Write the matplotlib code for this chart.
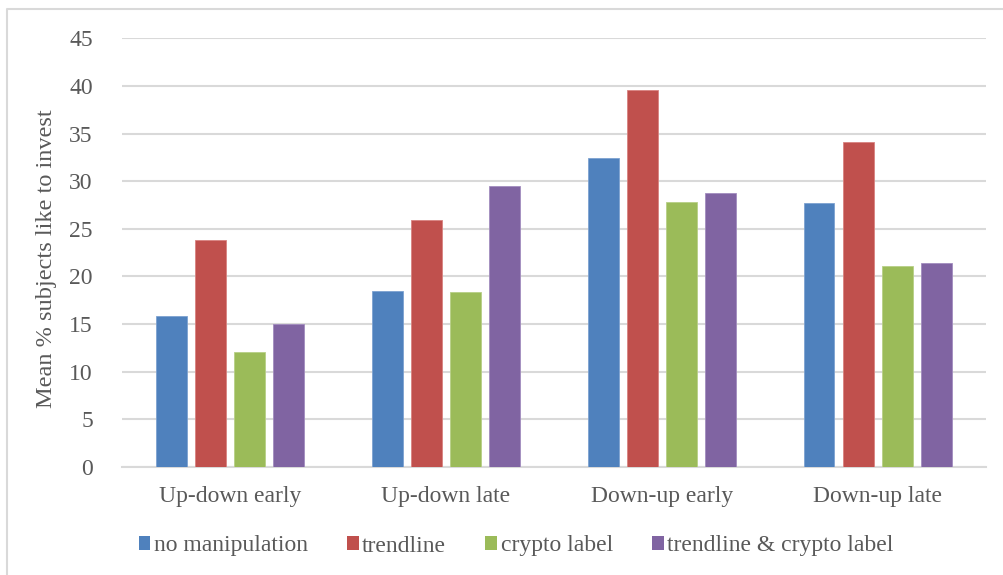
import matplotlib
matplotlib.use("Agg")
import matplotlib.pyplot as plt
import numpy as np
from matplotlib.patches import Patch
from matplotlib.lines import Line2D

categories = ["Up-down early", "Up-down late", "Down-up early", "Down-up late"]
series_names = ["no manipulation", "trendline", "crypto label", "trendline & crypto label"]
no_manipulation = [15.8, 18.5, 32.4, 27.7]
trendline = [23.8, 25.9, 39.6, 34.1]
crypto_label = [12.0, 18.3, 27.8, 21.1]
trendline_crypto = [15.0, 29.5, 28.7, 21.4]
y_ticks = [0, 5, 10, 15, 20, 25, 30, 35, 40, 45]

colors = ["#4F81BD", "#C0504D", "#9BBB59", "#8064A2"]
edge_colors = ["#7DA2D1", "#D88380", "#B7CF86", "#A28CBF"]
text_color = "#595959"
grid_color = "#D9D9D9"

plt.rcParams["font.family"] = ["Liberation Serif", "DejaVu Serif"]

fig = plt.figure(figsize=(10.04, 5.75), dpi=100)
ax = fig.add_axes([122 / 1004, (575 - 466.7) / 575, (985.7 - 122) / 1004, (466.7 - 38.3) / 575])

series = [no_manipulation, trendline, crypto_label, trendline_crypto]
x = np.arange(len(categories))
width = 0.142
step = 0.181
for i, vals in enumerate(series):
    offs = (i - 1.5) * step
    ax.bar(x + offs, vals, width=width, color=colors[i], edgecolor=edge_colors[i],
           linewidth=0.6, zorder=3)

ax.set_xlim(-0.5, len(categories) - 0.5)
ax.set_ylim(0, 45)
ax.set_yticks(y_ticks)
ax.set_xticks(x)
ax.set_xticklabels(categories)
ax.tick_params(axis="both", length=0, labelsize=17, colors=text_color)
ax.tick_params(axis="y", pad=21)
ax.tick_params(axis="x", pad=14)
ax.yaxis.grid(True, color=grid_color, linewidth=1.5, zorder=0)
ax.set_axisbelow(True)
for side in ["left", "right", "top"]:
    ax.spines[side].set_visible(False)
ax.spines["bottom"].set_color(grid_color)
ax.spines["bottom"].set_linewidth(1.5)

ax.set_ylabel("Mean % subjects like to invest", fontsize=17.5, color=text_color)
ax.yaxis.set_label_coords(-0.075, 0.485)

handles = [Patch(facecolor=c, edgecolor="none") for c in colors]
leg = fig.legend(handles, series_names, loc="center", bbox_to_anchor=(516 / 1004, 1 - 546 / 575),
                 ncol=4, frameon=False, fontsize=17, handlelength=0.5, handleheight=0.5,
                 handletextpad=0.15, columnspacing=1.65, labelcolor=text_color)

# outer chart frame (top and left edges)
fig.add_artist(Line2D([7 / 1004, 7 / 1004, 1.0], [0.0, 1 - 9 / 575, 1 - 9 / 575],
                      transform=fig.transFigure, color=grid_color, linewidth=1.5))

fig.savefig("out.png", dpi=100, facecolor="white")
